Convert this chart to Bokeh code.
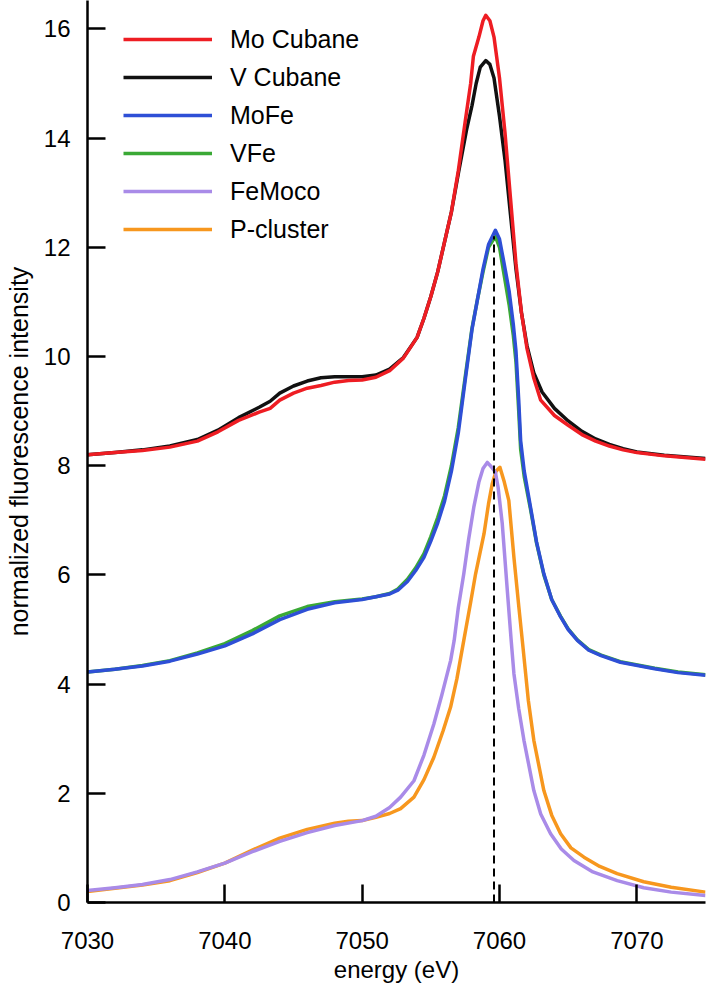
from bokeh.plotting import figure
from bokeh.models import Range1d, FixedTicker, Legend, LegendItem
from bokeh.embed import file_html
from bokeh.resources import INLINE

# ---------------- data ----------------
mo_cubane_x = [7030, 7032, 7034, 7036, 7038, 7039.5, 7041, 7042.5, 7043.3, 7044, 7045, 7046, 7047,
               7048, 7049, 7050, 7051, 7052, 7053, 7054, 7054.5, 7055, 7055.5, 7056, 7056.5, 7057,
               7057.5, 7057.9, 7058.1, 7058.5, 7058.8, 7059.0, 7059.3, 7059.6, 7060.0, 7060.4,
               7060.8, 7061.2, 7061.6, 7062.0, 7062.5, 7063.0, 7064, 7065, 7066, 7067, 7068, 7069,
               7070, 7072, 7075]
mo_cubane_y = [8.20, 8.24, 8.28, 8.34, 8.45, 8.62, 8.83, 8.98, 9.05, 9.20, 9.33, 9.42, 9.47,
               9.53, 9.56, 9.57, 9.62, 9.74, 9.97, 10.35, 10.7, 11.1, 11.55, 12.1, 12.65, 13.4,
               14.3, 15.0, 15.5, 15.85, 16.15, 16.25, 16.15, 15.85, 15.1, 14.1,
               12.9, 11.7, 10.8, 10.15, 9.6, 9.2, 8.92, 8.74, 8.57, 8.45, 8.36, 8.29,
               8.24, 8.18, 8.12]

v_cubane_x = [7030, 7032, 7034, 7036, 7038, 7039.5, 7041, 7042.5, 7043.3, 7044, 7045, 7046, 7047,
              7048, 7049, 7050, 7051, 7052, 7053, 7054, 7054.5, 7055, 7055.5, 7056, 7056.5, 7057,
              7057.6, 7058.0, 7058.3, 7058.6, 7059.0, 7059.3, 7059.6, 7060.0, 7060.4, 7060.8,
              7061.2, 7061.6, 7062.0, 7062.5, 7063.1, 7064, 7065, 7066, 7067, 7068, 7069, 7070,
              7072, 7075]
v_cubane_y = [8.20, 8.24, 8.29, 8.36, 8.48, 8.65, 8.88, 9.07, 9.18, 9.33, 9.46, 9.55, 9.61,
              9.63, 9.63, 9.63, 9.66, 9.77, 9.98, 10.35, 10.7, 11.1, 11.55, 12.1, 12.65, 13.35,
              14.15, 14.6, 15.0, 15.3, 15.42, 15.35, 15.1, 14.4, 13.6, 12.6,
              11.6, 10.8, 10.2, 9.7, 9.35, 9.05, 8.82, 8.63, 8.49, 8.39, 8.31, 8.25,
              8.19, 8.13]

mofe_x = [7030, 7032, 7034, 7036, 7038, 7040, 7042, 7044, 7046, 7048, 7050, 7051, 7052, 7052.6,
          7053.3, 7053.9, 7054.5, 7055, 7055.5, 7056, 7056.5, 7057, 7057.5, 7058, 7058.4, 7058.8,
          7059.2, 7059.7, 7060.0, 7060.3, 7060.7, 7061.0, 7061.2, 7061.4, 7061.54, 7061.8,
          7062.26, 7062.7, 7063.23, 7063.8, 7064.45, 7065.0, 7065.67, 7066.5, 7067.4, 7068.8,
          7071.3, 7073, 7075]
mofe_y = [4.22, 4.27, 4.33, 4.42, 4.55, 4.70, 4.92, 5.18, 5.37, 5.49, 5.55, 5.60, 5.65, 5.72,
          5.88, 6.08, 6.32, 6.62, 6.95, 7.35, 7.90, 8.60, 9.56, 10.5, 11.05, 11.6,
          12.05, 12.31, 12.15, 11.75, 11.2, 10.6, 10.1, 9.2, 8.46, 7.9,
          7.24, 6.6, 6.02, 5.55, 5.23, 5.0, 4.8, 4.62, 4.52, 4.40,
          4.28, 4.21, 4.16]

vfe_x = mofe_x
vfe_y = [4.22, 4.27, 4.34, 4.43, 4.57, 4.74, 4.98, 5.25, 5.42, 5.51, 5.56, 5.60, 5.66, 5.74,
         5.92, 6.13, 6.39, 6.70, 7.05, 7.45, 8.0, 8.70, 9.62, 10.52, 11.05, 11.55,
         12.0, 12.2, 12.0, 11.55, 10.95, 10.4, 9.9, 9.0, 8.3, 7.8,
         7.2, 6.58, 6.0, 5.55, 5.24, 5.01, 4.81, 4.63, 4.53, 4.41,
         4.29, 4.22, 4.17]

femoco_x = [7030, 7032, 7034, 7036, 7038, 7040, 7042, 7044, 7046, 7048, 7050, 7051, 7052, 7052.8,
            7053.77, 7054.5, 7055.22, 7055.8, 7056.44, 7056.7, 7057.0, 7057.4, 7057.75, 7058.13,
            7058.5, 7058.8, 7059.11, 7059.4, 7059.7, 7059.9, 7060.2, 7060.57, 7060.85, 7061.05,
            7061.4, 7061.78, 7062.5, 7063.0, 7063.72, 7064.5, 7065.42, 7066.8, 7068.57, 7070.5,
            7072.5, 7075]
femoco_y = [0.22, 0.27, 0.33, 0.42, 0.56, 0.72, 0.93, 1.12, 1.28, 1.41, 1.50, 1.58, 1.74, 1.93,
            2.23, 2.7, 3.27, 3.8, 4.43, 4.8, 5.4, 6.02, 6.65, 7.24,
            7.7, 7.95, 8.06, 7.98, 7.88, 7.6, 6.94, 5.71, 4.8, 4.19,
            3.55, 2.97, 2.05, 1.62, 1.26, 0.98, 0.77, 0.56, 0.40, 0.27,
            0.19, 0.13]

pcluster_x = [7030, 7032, 7034, 7036, 7038, 7040, 7042, 7044, 7046, 7048, 7049, 7050, 7051, 7052,
              7052.8, 7053.77, 7054.5, 7055.22, 7055.9, 7056.44, 7056.9, 7057.4, 7057.9, 7058.26,
              7058.87, 7059.2, 7059.47, 7059.75, 7060.03, 7060.35, 7060.68, 7061.05, 7061.41,
              7061.7, 7062.1, 7062.5, 7063.23, 7063.8, 7064.45, 7065.2, 7066.15, 7067.3, 7068.57,
              7070.5, 7072.5, 7075]
pcluster_y = [0.20, 0.26, 0.32, 0.40, 0.55, 0.72, 0.96, 1.18, 1.34, 1.45, 1.49, 1.50, 1.56, 1.63,
              1.72, 1.93, 2.25, 2.66, 3.15, 3.58, 4.1, 4.8, 5.5, 6.02,
              6.75, 7.3, 7.67, 7.9, 7.97, 7.7, 7.36, 6.32, 5.41,
              4.7, 3.7, 2.97, 2.05, 1.6, 1.26, 1.0, 0.83, 0.66, 0.53,
              0.38, 0.28, 0.19]

dash_x = [7059.6]
dash_y0 = [0.0]
dash_y1 = [12.2]

x_ticks = [7030, 7040, 7050, 7060, 7070]
y_ticks = [0, 2, 4, 6, 8, 10, 12, 14, 16]

# ---------------- figure ----------------
FONT = "Liberation Sans"
W, H = 708, 989
BL, BR, BT, BB = 87, 3, 0, 87

p = figure(width=W, height=H, output_backend="svg", toolbar_location=None,
           x_range=Range1d(7030, 7075), y_range=Range1d(0, 16.52),
           min_border_left=BL, min_border_right=BR, min_border_top=BT, min_border_bottom=BB)
p.outline_line_color = None
p.xgrid.visible = False
p.ygrid.visible = False
p.background_fill_color = "white"

for ax in (p.xaxis[0], p.yaxis[0]):
    ax.axis_line_width = 2.5
    ax.axis_line_color = "black"
    ax.major_tick_line_width = 2.5
    ax.major_tick_line_color = "black"
    ax.major_tick_in = 18
    ax.major_tick_out = 0
    ax.minor_tick_line_color = None
    ax.major_label_text_font = FONT
    ax.major_label_text_font_size = "24px"
    ax.major_label_text_color = "black"
    ax.axis_label_text_font = FONT
    ax.axis_label_text_font_style = "normal"
    ax.axis_label_text_color = "black"

p.xaxis[0].ticker = FixedTicker(ticks=x_ticks)
p.yaxis[0].ticker = FixedTicker(ticks=y_ticks)
p.xaxis[0].axis_label = "energy (eV)"
p.yaxis[0].axis_label = "normalized fluorescence intensity"
p.xaxis[0].axis_label_text_font_size = "24px"
p.yaxis[0].axis_label_text_font_size = "25px"
p.xaxis[0].major_label_standoff = 29
p.xaxis[0].axis_label_standoff = 4
p.yaxis[0].major_label_standoff = 17
p.yaxis[0].axis_label_standoff = 8

LW = 3.5
r_v = p.line(v_cubane_x, v_cubane_y, line_color="#111111", line_width=LW, line_join="round")
r_mo = p.line(mo_cubane_x, mo_cubane_y, line_color="#ee1d23", line_width=LW, line_join="round")
r_vfe = p.line(vfe_x, vfe_y, line_color="#3aa935", line_width=LW, line_join="round")
r_mofe = p.line(mofe_x, mofe_y, line_color="#2e4fd6", line_width=LW, line_join="round")
r_pc = p.line(pcluster_x, pcluster_y, line_color="#f7971e", line_width=LW, line_join="round")
r_fm = p.line(femoco_x, femoco_y, line_color="#a98be8", line_width=LW, line_join="round")

p.segment(x0=dash_x, y0=dash_y0, x1=dash_x, y1=dash_y1, line_color="black",
          line_width=2, line_dash="8 5")

items = [LegendItem(label="Mo Cubane", renderers=[r_mo]),
         LegendItem(label="V Cubane", renderers=[r_v]),
         LegendItem(label="MoFe", renderers=[r_mofe]),
         LegendItem(label="VFe", renderers=[r_vfe]),
         LegendItem(label="FeMoco", renderers=[r_fm]),
         LegendItem(label="P-cluster", renderers=[r_pc])]

item_h = 30
gap = 8
frame_h = H - BB - BT
legend_h = 6 * item_h + 5 * gap
legend_top = 39.3 - item_h / 2
legend = Legend(items=items, location=(36, round(frame_h - legend_top - legend_h)),
                glyph_width=89, glyph_height=item_h, label_height=item_h,
                label_standoff=18, spacing=gap, padding=0, margin=0,
                border_line_color=None, background_fill_alpha=0,
                label_text_font=FONT, label_text_font_size="25px",
                label_text_color="black")
p.add_layout(legend, "center")

open("out.html", "w").write(file_html(p, INLINE))
